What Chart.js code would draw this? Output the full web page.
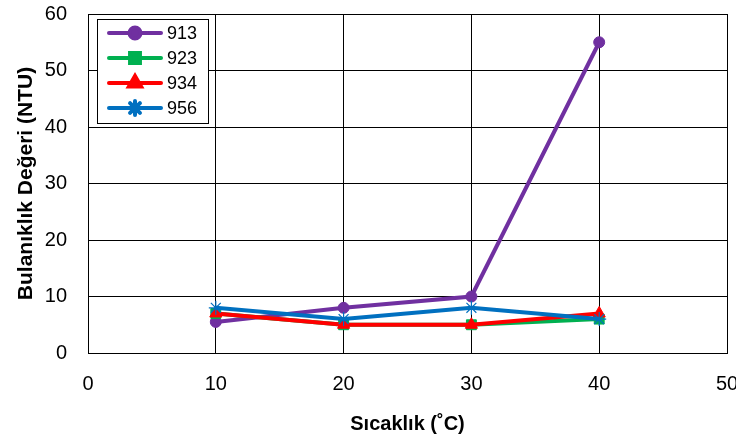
<!DOCTYPE html>
<html>
<head>
<meta charset="utf-8">
<script src="https://cdn.jsdelivr.net/npm/chart.js@4"></script>
<style>
  html, body { margin: 0; padding: 0; background: #fff; overflow: hidden; }
  canvas { display: block; }
</style>
</head>
<body>
<canvas id="chart" width="736" height="440"></canvas>
<script>
const temps = [10, 20, 30, 40]
const s913 = [5.5, 8, 10, 55]
const s923 = [7, 5, 5, 6]
const s934 = [7, 5, 5, 7]
const s956 = [8, 6, 8, 6]
const seriesNames = ['913', '923', '934', '956']

const fontFamily = '"Liberation Sans", Arial, sans-serif'

function pts(vals) {
    return temps.map((t, k) => ({x: t, y: vals[k]}))
}

// small legend box inside the plot, like the original
const boxLegend = {
    id: 'boxLegend',
    afterDraw(chart) {
        const ctx = chart.ctx
        const x0 = 97, y0 = 19, w = 111, h = 104
        ctx.save()
        ctx.fillStyle = '#fff'
        ctx.fillRect(x0, y0, w, h)
        ctx.strokeStyle = '#000'
        ctx.lineWidth = 1
        ctx.strokeRect(x0 + 0.5, y0 + 0.5, w, h)
        chart.data.datasets.forEach((ds, k) => {
            const y = y0 + 14 + k * 25
            ctx.strokeStyle = ds.borderColor
            ctx.lineWidth = 4
            ctx.lineCap = 'round'
            ctx.beginPath()
            ctx.moveTo(109, y)
            ctx.lineTo(161, y)
            ctx.stroke()
            ctx.fillStyle = ds.pointBackgroundColor
            ctx.strokeStyle = ds.pointBorderColor
            Chart.helpers.drawPoint(ctx, {
                pointStyle: ds.pointStyle,
                radius: ds.pointRadius,
                rotation: 0,
                borderWidth: ds.pointBorderWidth
            }, 135, y)
            ctx.fillStyle = '#000'
            ctx.font = '18px ' + fontFamily
            ctx.textBaseline = 'middle'
            ctx.textAlign = 'left'
            ctx.fillText(seriesNames[k], 167, y + 1)
        })
        ctx.restore()
    }
}

function makeSet(name, vals, color, style, radius, bw) {
    return {
        label: name,
        data: pts(vals),
        borderColor: color,
        backgroundColor: color,
        borderWidth: 4,
        pointStyle: style,
        pointRadius: radius,
        pointBackgroundColor: color,
        pointBorderColor: color,
        pointBorderWidth: bw,
        tension: 0
    }
}

new Chart(document.getElementById('chart'), {
    type: 'line',
    data: {
        datasets: [
            Object.assign(makeSet(seriesNames[0], s913, '#7030A0', 'circle', 5.5, 1), {order: 4}),
            Object.assign(makeSet(seriesNames[1], s923, '#00B050', 'rect', 7, 1), {order: 3}),
            Object.assign(makeSet(seriesNames[2], s934, '#FF0000', 'triangle', 7, 1), {order: 2}),
            Object.assign(makeSet(seriesNames[3], s956, '#0070C0', 'star', 7, 1.2), {order: 1})
        ]
    },
    options: {
        responsive: false,
        animation: false,
        layout: { padding: { top: 14, right: 9, left: 0, bottom: 0 } },
        plugins: {
            legend: { display: false },
            tooltip: { enabled: false }
        },
        scales: {
            x: {
                type: 'linear',
                min: 0,
                max: 50,
                ticks: {
                    stepSize: 10,
                    padding: 19,
                    color: '#000',
                    font: { family: fontFamily, size: 20 }
                },
                grid: { color: '#000', lineWidth: 1, drawTicks: false },
                border: { color: '#000', width: 1 },
                title: {
                    display: true,
                    text: 'Sıcaklık (˚C)',
                    color: '#000',
                    font: { family: fontFamily, size: 20, weight: 'bold' },
                    padding: { top: 0, bottom: 4 }
                },
                afterFit(scale) {
                    scale.height = 87
                    scale.paddingLeft = 0
                    scale.paddingRight = 0
                }
            },
            y: {
                min: 0,
                max: 60,
                ticks: {
                    stepSize: 10,
                    padding: 21,
                    color: '#000',
                    font: { family: fontFamily, size: 20 }
                },
                grid: { color: '#000', lineWidth: 1, drawTicks: false },
                border: { color: '#000', width: 1 },
                title: {
                    display: true,
                    text: 'Bulanıklık Değeri (NTU)',
                    color: '#000',
                    font: { family: fontFamily, size: 21, weight: 'bold' },
                    padding: { top: 14, bottom: 0 }
                },
                afterFit(scale) {
                    scale.width = 88
                    scale.paddingTop = 0
                    scale.paddingBottom = 0
                }
            }
        }
    },
    plugins: [boxLegend]
})
</script>
</body>
</html>
